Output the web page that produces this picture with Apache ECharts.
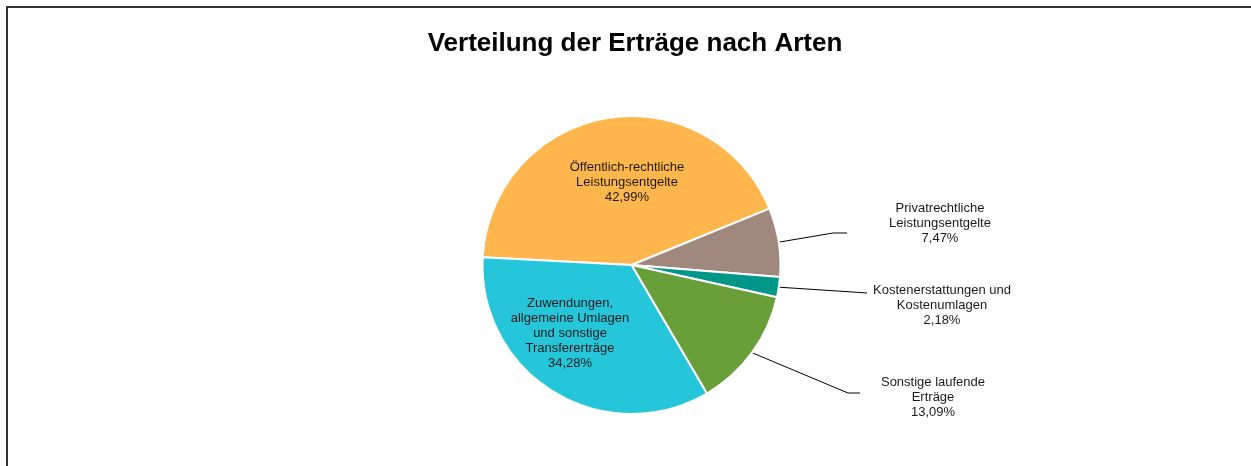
<!DOCTYPE html>
<html>
<head>
<meta charset="utf-8">
<title>Verteilung der Erträge nach Arten</title>
<script src="https://cdn.jsdelivr.net/npm/echarts@6/dist/echarts.min.js"></script>
<style>
  html, body { margin: 0; padding: 0; background: #ffffff; }
  #chart { width: 1251px; height: 466px; }
</style>
</head>
<body>
<div id="chart"></div>
<script>
// Revenue categories and their shares (percent)
const categories = [
  'Öffentlich-rechtliche\nLeistungsentgelte',
  'Privatrechtliche\nLeistungsentgelte',
  'Kostenerstattungen und\nKostenumlagen',
  'Sonstige laufende\nErträge',
  'Zuwendungen,\nallgemeine Umlagen\nund sonstige\nTransfererträge'
];
const shares = [42.99, 7.47, 2.18, 13.09, 34.28];

// Slice colours, one per category
const sliceColors = ['#FFB74D', '#A1887F', '#009688', '#689F38', '#26C6DA'];

// Which slices carry their label inside the sector
const insideLabels = [true, false, false, false, true];

// Pie geometry
const PIE_CENTER = [631.5, 265];
const PIE_RADIUS = 149;

// Label placement relative to the pie centre; callouts also get an elbow and end point
const labelSpots = [
  { at: [-4.5, -83] },
  { at: [308.5, -42], line: [[201.5, -32], [215.5, -32]] },
  { at: [310.5, 40],  line: [[228.5, 27.5], [235.5, 28]] },
  { at: [301.5, 132], line: [[216.5, 128], [228.5, 128]] },
  { at: [-61.5, 68] }
];

const fmtPercent = v => v.toFixed(2).replace('.', ',') + '%';

const chart = echarts.init(document.getElementById('chart'), null, { renderer: 'canvas' });

chart.setOption({
  animation: false,
  backgroundColor: '#ffffff',
  textStyle: { fontFamily: '"Liberation Sans", Arial, sans-serif' },
  graphic: [{
    type: 'rect',
    silent: true,
    shape: { x: 7, y: 7, width: 1300, height: 520 },
    style: { fill: 'none', stroke: '#333333', lineWidth: 2 }
  }],
  title: {
    text: 'Verteilung der Erträge nach Arten',
    left: 630,
    textAlign: 'center',
    top: 26,
    textStyle: {
      fontFamily: '"Liberation Sans", Arial, sans-serif',
      fontSize: 26,
      fontWeight: 'bold',
      color: '#000000'
    }
  },
  series: [{
    type: 'pie',
    center: PIE_CENTER,
    radius: [0, PIE_RADIUS],
    startAngle: 177,
    clockwise: true,
    avoidLabelOverlap: false,
    itemStyle: { borderColor: '#ffffff', borderWidth: 2 },
    emphasis: { disabled: true },
    label: {
      show: true,
      fontFamily: '"Liberation Sans", Arial, sans-serif',
      fontSize: 13,
      lineHeight: 15,
      color: '#1a1a1a',
      formatter: p => p.name + '\n' + fmtPercent(p.value)
    },
    labelLine: {
      show: true,
      lineStyle: { color: '#000000', width: 1 }
    },
    labelLayout: p => {
      const s = labelSpots[p.dataIndex];
      const out = {
        x: PIE_CENTER[0] + s.at[0],
        y: PIE_CENTER[1] + s.at[1],
        align: 'center',
        verticalAlign: 'middle'
      };
      if (s.line && p.labelLinePoints) {
        out.labelLinePoints = [p.labelLinePoints[0]].concat(
          s.line.map(q => [PIE_CENTER[0] + q[0], PIE_CENTER[1] + q[1]])
        );
      }
      return out;
    },
    data: categories.map((name, i) => ({
      name: name,
      value: shares[i],
      itemStyle: { color: sliceColors[i] },
      label: { position: insideLabels[i] ? 'inside' : 'outside' },
      labelLine: { show: !insideLabels[i] }
    }))
  }]
});
</script>
</body>
</html>
